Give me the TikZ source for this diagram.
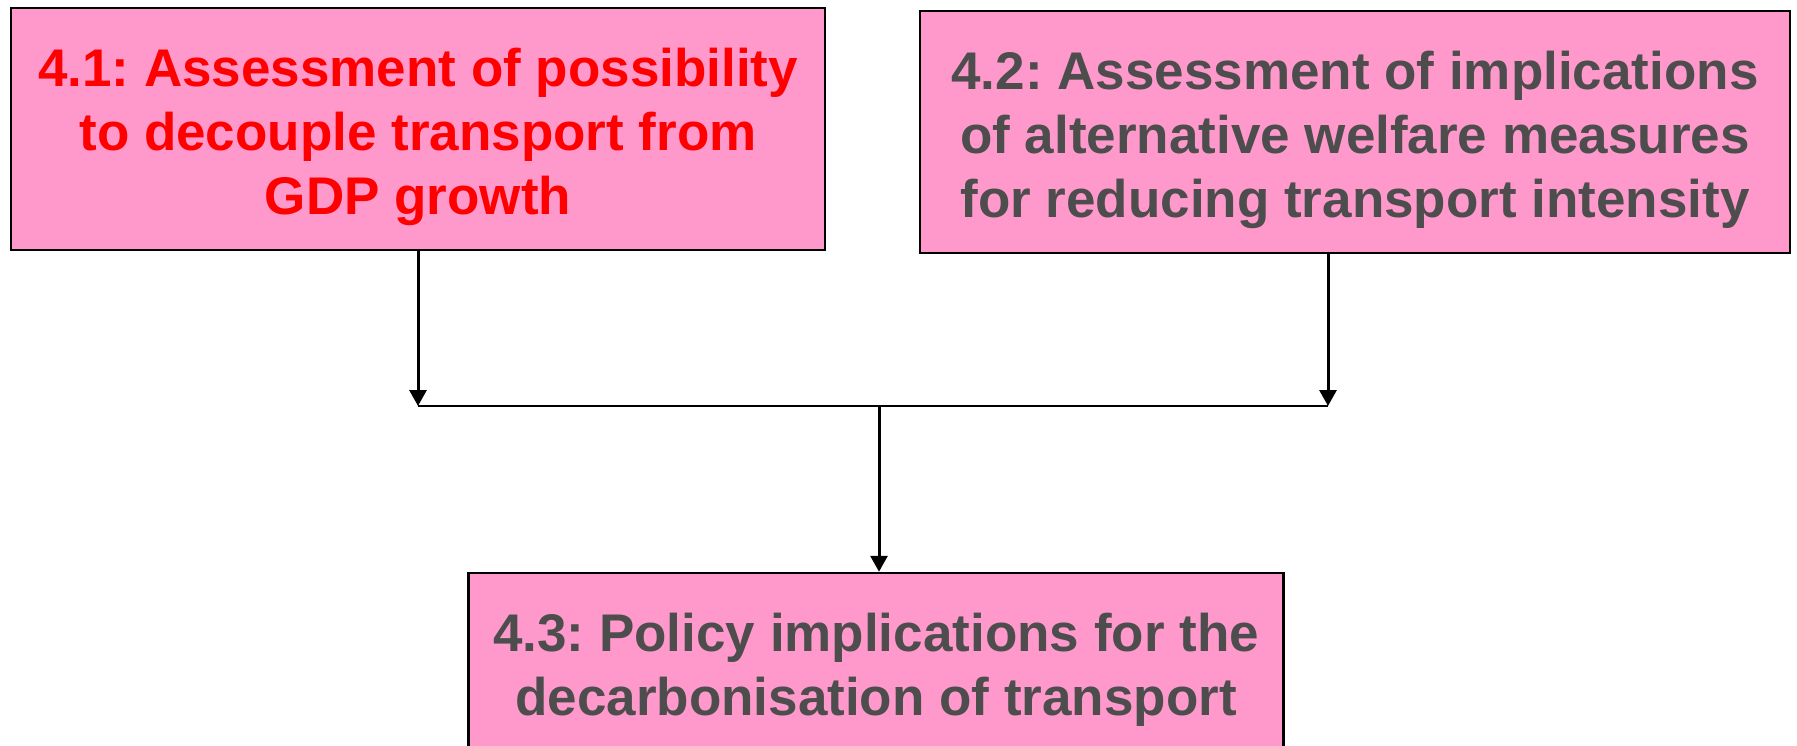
\documentclass[tikz,border=0pt]{standalone}
\usepackage{fontspec}
\setmainfont{Liberation Sans}
\usetikzlibrary{arrows.meta}
\definecolor{boxpink}{HTML}{FF99CC}
\definecolor{textgray}{HTML}{4D4D4D}
\newcommand{\toppad}{\rule{0pt}{54pt}}
\tikzset{
  taskbox/.style={draw=black, line width=2.5pt, fill=boxpink, align=center,
    font=\fontsize{53}{64}\selectfont\bfseries\frenchspacing, inner sep=0pt},
  flow/.style={line width=3pt, -{Triangle[length=16pt,width=17pt]}}
}
\begin{document}
\begin{tikzpicture}[x=1pt, y=-1pt]
    \useasboundingbox (0,0) rectangle (1797,746);
    \node[taskbox, text=red, minimum width=814, minimum height=242] (decouple) at (418,129)
        {\toppad 4.1: Assessment of possibility\\to decouple transport from\\GDP growth};
    \node[taskbox, text=textgray, minimum width=870, minimum height=242] (welfare) at (1355,132)
        {\toppad 4.2: Assessment of implications\\of alternative welfare measures\\for reducing transport intensity};
    \node[taskbox, text=textgray, minimum width=815, minimum height=178] (policy) at (876,662)
        {\toppad 4.3: Policy implications for the\\decarbonisation of transport};
    % junction line
    \coordinate (joinL) at (418,406);
    \coordinate (joinR) at (1328,406);
    \coordinate (joinM) at (879,406);
    \draw[flow] (decouple.south) -- (joinL);
    \draw[flow] (joinR |- welfare.south) -- (joinR);
    \draw[line width=2.5pt] (joinL) -- (joinR);
    \draw[flow] (joinM) -- (joinM |- policy.north);
\end{tikzpicture}
\end{document}
